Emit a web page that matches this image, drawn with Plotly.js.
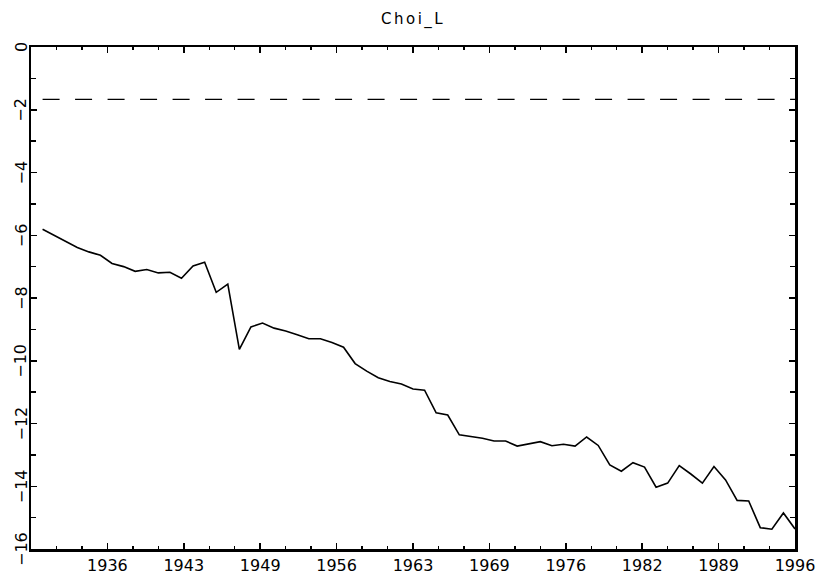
<!DOCTYPE html>
<html>
<head>
<meta charset="utf-8">
<script src="https://cdn.plot.ly/plotly-3.0.1.min.js"></script>
<style>
html,body{margin:0;padding:0;background:#fff;}
#chart{width:818px;height:575px;}
#chart .gtitle{letter-spacing:2.5px;}
</style>
</head>
<body>
<div id="chart"></div>
<script>
// Data
const years = [1931,1932,1933,1934,1935,1936,1937,1938,1939,1940,
               1941,1942,1943,1944,1945,1946,1947,1948,1949,1950,
               1951,1952,1953,1954,1955,1956,1957,1958,1959,1960,
               1961,1962,1963,1964,1965,1966,1967,1968,1969,1970,
               1971,1972,1973,1974,1975,1976,1977,1978,1979,1980,
               1981,1982,1983,1984,1985,1986,1987,1988,1989,1990,
               1991,1992,1993,1994,1995,1996];
const choiL = [-5.81,-6.00,-6.20,-6.39,-6.53,-6.64,-6.90,-7.00,-7.15,-7.09,
               -7.20,-7.18,-7.37,-6.98,-6.86,-7.82,-7.56,-9.64,-8.92,-8.80,
               -8.96,-9.05,-9.17,-9.30,-9.30,-9.42,-9.57,-10.09,-10.33,-10.54,
               -10.66,-10.74,-10.90,-10.94,-11.66,-11.73,-12.36,-12.42,-12.47,-12.56,
               -12.56,-12.72,-12.65,-12.58,-12.71,-12.66,-12.72,-12.43,-12.70,-13.32,
               -13.52,-13.25,-13.39,-14.03,-13.90,-13.34,-13.61,-13.90,-13.37,-13.80,
               -14.45,-14.47,-15.32,-15.37,-14.85,-15.36];
const criticalValue = -1.67;
const xTickLabels = ['1936','1943','1949','1956','1963','1969','1976','1982','1989','1996'];
const xRange = [1930, 1996];
const yTickVals = [0, -2, -4, -6, -8, -10, -12, -14, -16];
const yTickLabels = ['0', '\u22122', '\u22124', '\u22126', '\u22128', '\u221210', '\u221212', '\u221214', '\u221216'];

const xTickVals = xTickLabels.map((_, i) => xRange[0] + (i + 1) * (xRange[1] - xRange[0]) / xTickLabels.length);

const traces = [
  {
    x: years, y: choiL, type: 'scatter', mode: 'lines',
    line: {color: '#000', width: 1.6}, hoverinfo: 'x+y'
  },
  {
    x: [years[0], years[years.length - 1]], y: [criticalValue, criticalValue],
    type: 'scatter', mode: 'lines',
    line: {color: '#000', width: 1.4, dash: '17px,15.5px'}, hoverinfo: 'y'
  }
];

const font = {family: 'DejaVu Sans, sans-serif', size: 16, color: '#000'};

const yLabelAnnotations = yTickVals.map((v, i) => ({
  x: 0, xref: 'paper', y: v, yref: 'y',
  text: yTickLabels[i], showarrow: false, textangle: -90,
  xanchor: 'center', yanchor: 'middle', xshift: -10,
  font: font
}));

const layout = {
  width: 818, height: 575,
  margin: {l: 31, r: 23, t: 47, b: 26, pad: 0},
  paper_bgcolor: '#fff', plot_bgcolor: '#fff',
  showlegend: false,
  font: font,
  title: {text: 'Choi_L', x: 0.505, xanchor: 'center', y: 0.968, yanchor: 'middle',
          font: {family: 'DejaVu Sans, sans-serif', size: 15, color: '#000'}},
  xaxis: {
    range: xRange, tickmode: 'array', tickvals: xTickVals, ticktext: xTickLabels,
    ticks: 'inside', ticklen: 6, tickwidth: 1.5, tickcolor: '#000',
    showline: true, linewidth: 2.5, linecolor: '#000', mirror: 'allticks',
    showgrid: false, zeroline: false, tickfont: font,
    minor: {tickmode: 'linear', tick0: xRange[0], dtick: (xRange[1] - xRange[0]) / 30,
            ticks: 'inside', ticklen: 3, tickwidth: 1.3, tickcolor: '#000', showgrid: false}
  },
  yaxis: {
    range: [-16, 0], tickmode: 'array', tickvals: yTickVals, ticktext: yTickLabels,
    showticklabels: false,
    ticks: 'inside', ticklen: 6, tickwidth: 1.5, tickcolor: '#000',
    showline: true, linewidth: 2.5, linecolor: '#000', mirror: 'allticks',
    showgrid: false, zeroline: false, tickfont: font,
    minor: {tickmode: 'linear', tick0: 0, dtick: 1, ticks: 'inside', ticklen: 5,
            tickwidth: 1.3, tickcolor: '#000', showgrid: false}
  },
  annotations: yLabelAnnotations
};

Plotly.newPlot('chart', traces, layout, {displayModeBar: false, staticPlot: true});
</script>
</body>
</html>
